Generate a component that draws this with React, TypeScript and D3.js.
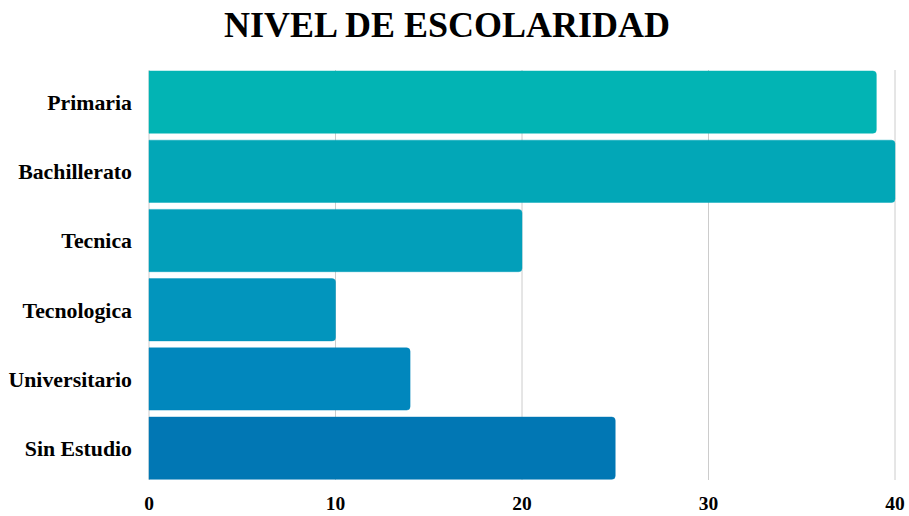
import React from "react";
import * as d3 from "d3";

const categories = ["Primaria", "Bachillerato", "Tecnica", "Tecnologica", "Universitario", "Sin Estudio"];
const values = [39, 40, 20, 10, 14, 25];
const barColors = ["#02b4b4", "#02a7b7", "#029fba", "#0295bd", "#0187bd", "#0177b4"];
const xTicks = [0, 10, 20, 30, 40];
const title = "NIVEL DE ESCOLARIDAD";

const W = 909;
const H = 516;
const FONT = "'Liberation Serif', 'Times New Roman', serif";

function roundedRightBar(x0: number, y0: number, x1: number, h: number, r: number) {
  const p = d3.path();
  const rr = Math.min(r, (x1 - x0) / 2, h / 2);
  p.moveTo(x0, y0);
  p.lineTo(x1 - rr, y0);
  p.arcTo(x1, y0, x1, y0 + rr, rr);
  p.lineTo(x1, y0 + h - rr);
  p.arcTo(x1, y0 + h, x1 - rr, y0 + h, rr);
  p.lineTo(x0, y0 + h);
  p.closePath();
  return p.toString();
}

export default function App() {
  const x = d3.scaleLinear().domain([0, 40]).range([149, 895]);
  const y = d3
    .scaleBand<string>()
    .domain(categories)
    .range([67.5, 482.8])
    .paddingInner(0.1)
    .paddingOuter(0.05);
  const top = 70;
  const bottom = 480;

  return (
    <svg
      width={W}
      height={H}
      style={{ position: "absolute", left: 0, top: 0, background: "#fff" }}
      fontFamily={FONT}
    >
      <text x={447} y={37} textAnchor="middle" fontSize={36} fontWeight="bold" fill="#000">
        {title}
      </text>
      {xTicks.map((t) => (
        <g key={t}>
          <line x1={x(t)} x2={x(t)} y1={top} y2={bottom} stroke="#cccccc" strokeWidth={1} />
          <text x={x(t)} y={510} textAnchor="middle" fontSize={19.5} fontWeight="bold" fill="#000">
            {t}
          </text>
        </g>
      ))}
      {categories.map((c, i) => (
        <g key={c}>
          <path
            d={roundedRightBar(x(0), y(c)!, x(values[i]), y.bandwidth(), 3.5)}
            fill={barColors[i]}
            stroke={barColors[i]}
            strokeOpacity={0.45}
            strokeWidth={1}
          />
          <text
            x={132}
            y={y(c)! + y.bandwidth() / 2}
            dy="0.36em"
            textAnchor="end"
            fontSize={21.8}
            fontWeight="bold"
            fill="#000"
          >
            {c}
          </text>
        </g>
      ))}
    </svg>
  );
}
